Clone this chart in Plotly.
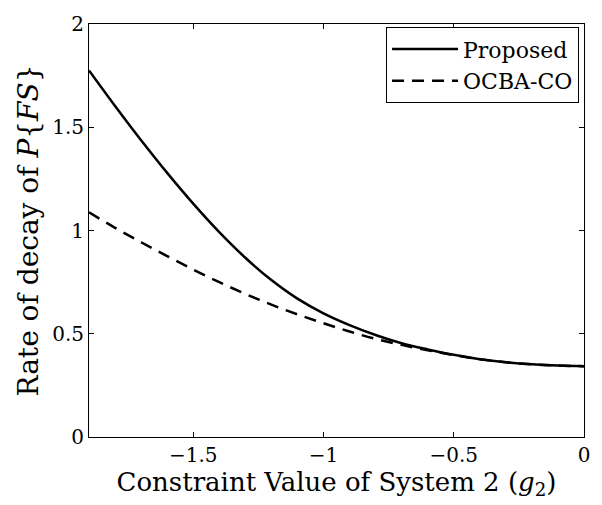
import plotly.graph_objects as go

x_vals = [-1.9, -1.8, -1.7, -1.6, -1.5, -1.4, -1.3, -1.2, -1.1, -1.0,
          -0.9, -0.8, -0.7, -0.6, -0.5, -0.4, -0.3, -0.2, -0.1, 0.0]
proposed = [1.775, 1.603, 1.437, 1.279, 1.130, 0.992, 0.868, 0.760, 0.670, 0.599,
            0.542, 0.494, 0.454, 0.424, 0.398, 0.377, 0.362, 0.352, 0.346, 0.343]
ocba_co = [1.088, 1.013, 0.943, 0.876, 0.811, 0.750, 0.693, 0.641, 0.594, 0.551,
           0.511, 0.475, 0.446, 0.420, 0.397, 0.377, 0.362, 0.352, 0.346, 0.343]

x_ticks = [-1.5, -1.0, -0.5, 0.0]
x_tick_text = ["\u22121.5", "\u22121", "\u22120.5", "0"]
y_ticks = [0, 0.5, 1, 1.5, 2]
y_tick_text = ["0", "0.5", "1", "1.5", "2"]

FONT = "DejaVu Serif, Liberation Serif, serif"

fig = go.Figure()
fig.add_trace(go.Scatter(x=x_vals, y=proposed, mode="lines", name="Proposed",
                         line=dict(color="black", width=2.5, shape="spline")))
fig.add_trace(go.Scatter(x=x_vals, y=ocba_co, mode="lines", name="OCBA-CO",
                         line=dict(color="black", width=2.5, dash="12px,8px", shape="spline")))

axis_common = dict(showline=True, linecolor="black", linewidth=1, mirror="allticks",
                   ticks="inside", ticklen=5, tickcolor="black", showgrid=False,
                   zeroline=False, tickfont=dict(family=FONT, size=20, color="black"))

fig.update_xaxes(range=[-1.9, 0], tickvals=x_ticks, ticktext=x_tick_text,
                 title=dict(text="Constraint Value of System 2 (<i>g</i><sub>2</sub>)",
                            font=dict(family=FONT, size=26, color="black"), standoff=1),
                 **axis_common)
fig.update_yaxes(range=[0, 2], tickvals=y_ticks, ticktext=y_tick_text,
                 title=dict(text="Rate of decay of <i>P</i>{<i>FS</i>}",
                            font=dict(family=FONT, size=28, color="black"), standoff=5),
                 **axis_common)

fig.update_layout(
    width=602, height=505,
    margin=dict(l=89, r=16, t=18, b=68),
    paper_bgcolor="white", plot_bgcolor="white",
    font=dict(family=FONT, color="black"),
    legend=dict(x=0.99, y=0.992, xanchor="right", yanchor="top",
                bgcolor="white", bordercolor="black", borderwidth=1,
                font=dict(family=FONT, size=22, color="black"),
                itemwidth=66, tracegroupgap=0),
)

fig.write_html("out.html")
